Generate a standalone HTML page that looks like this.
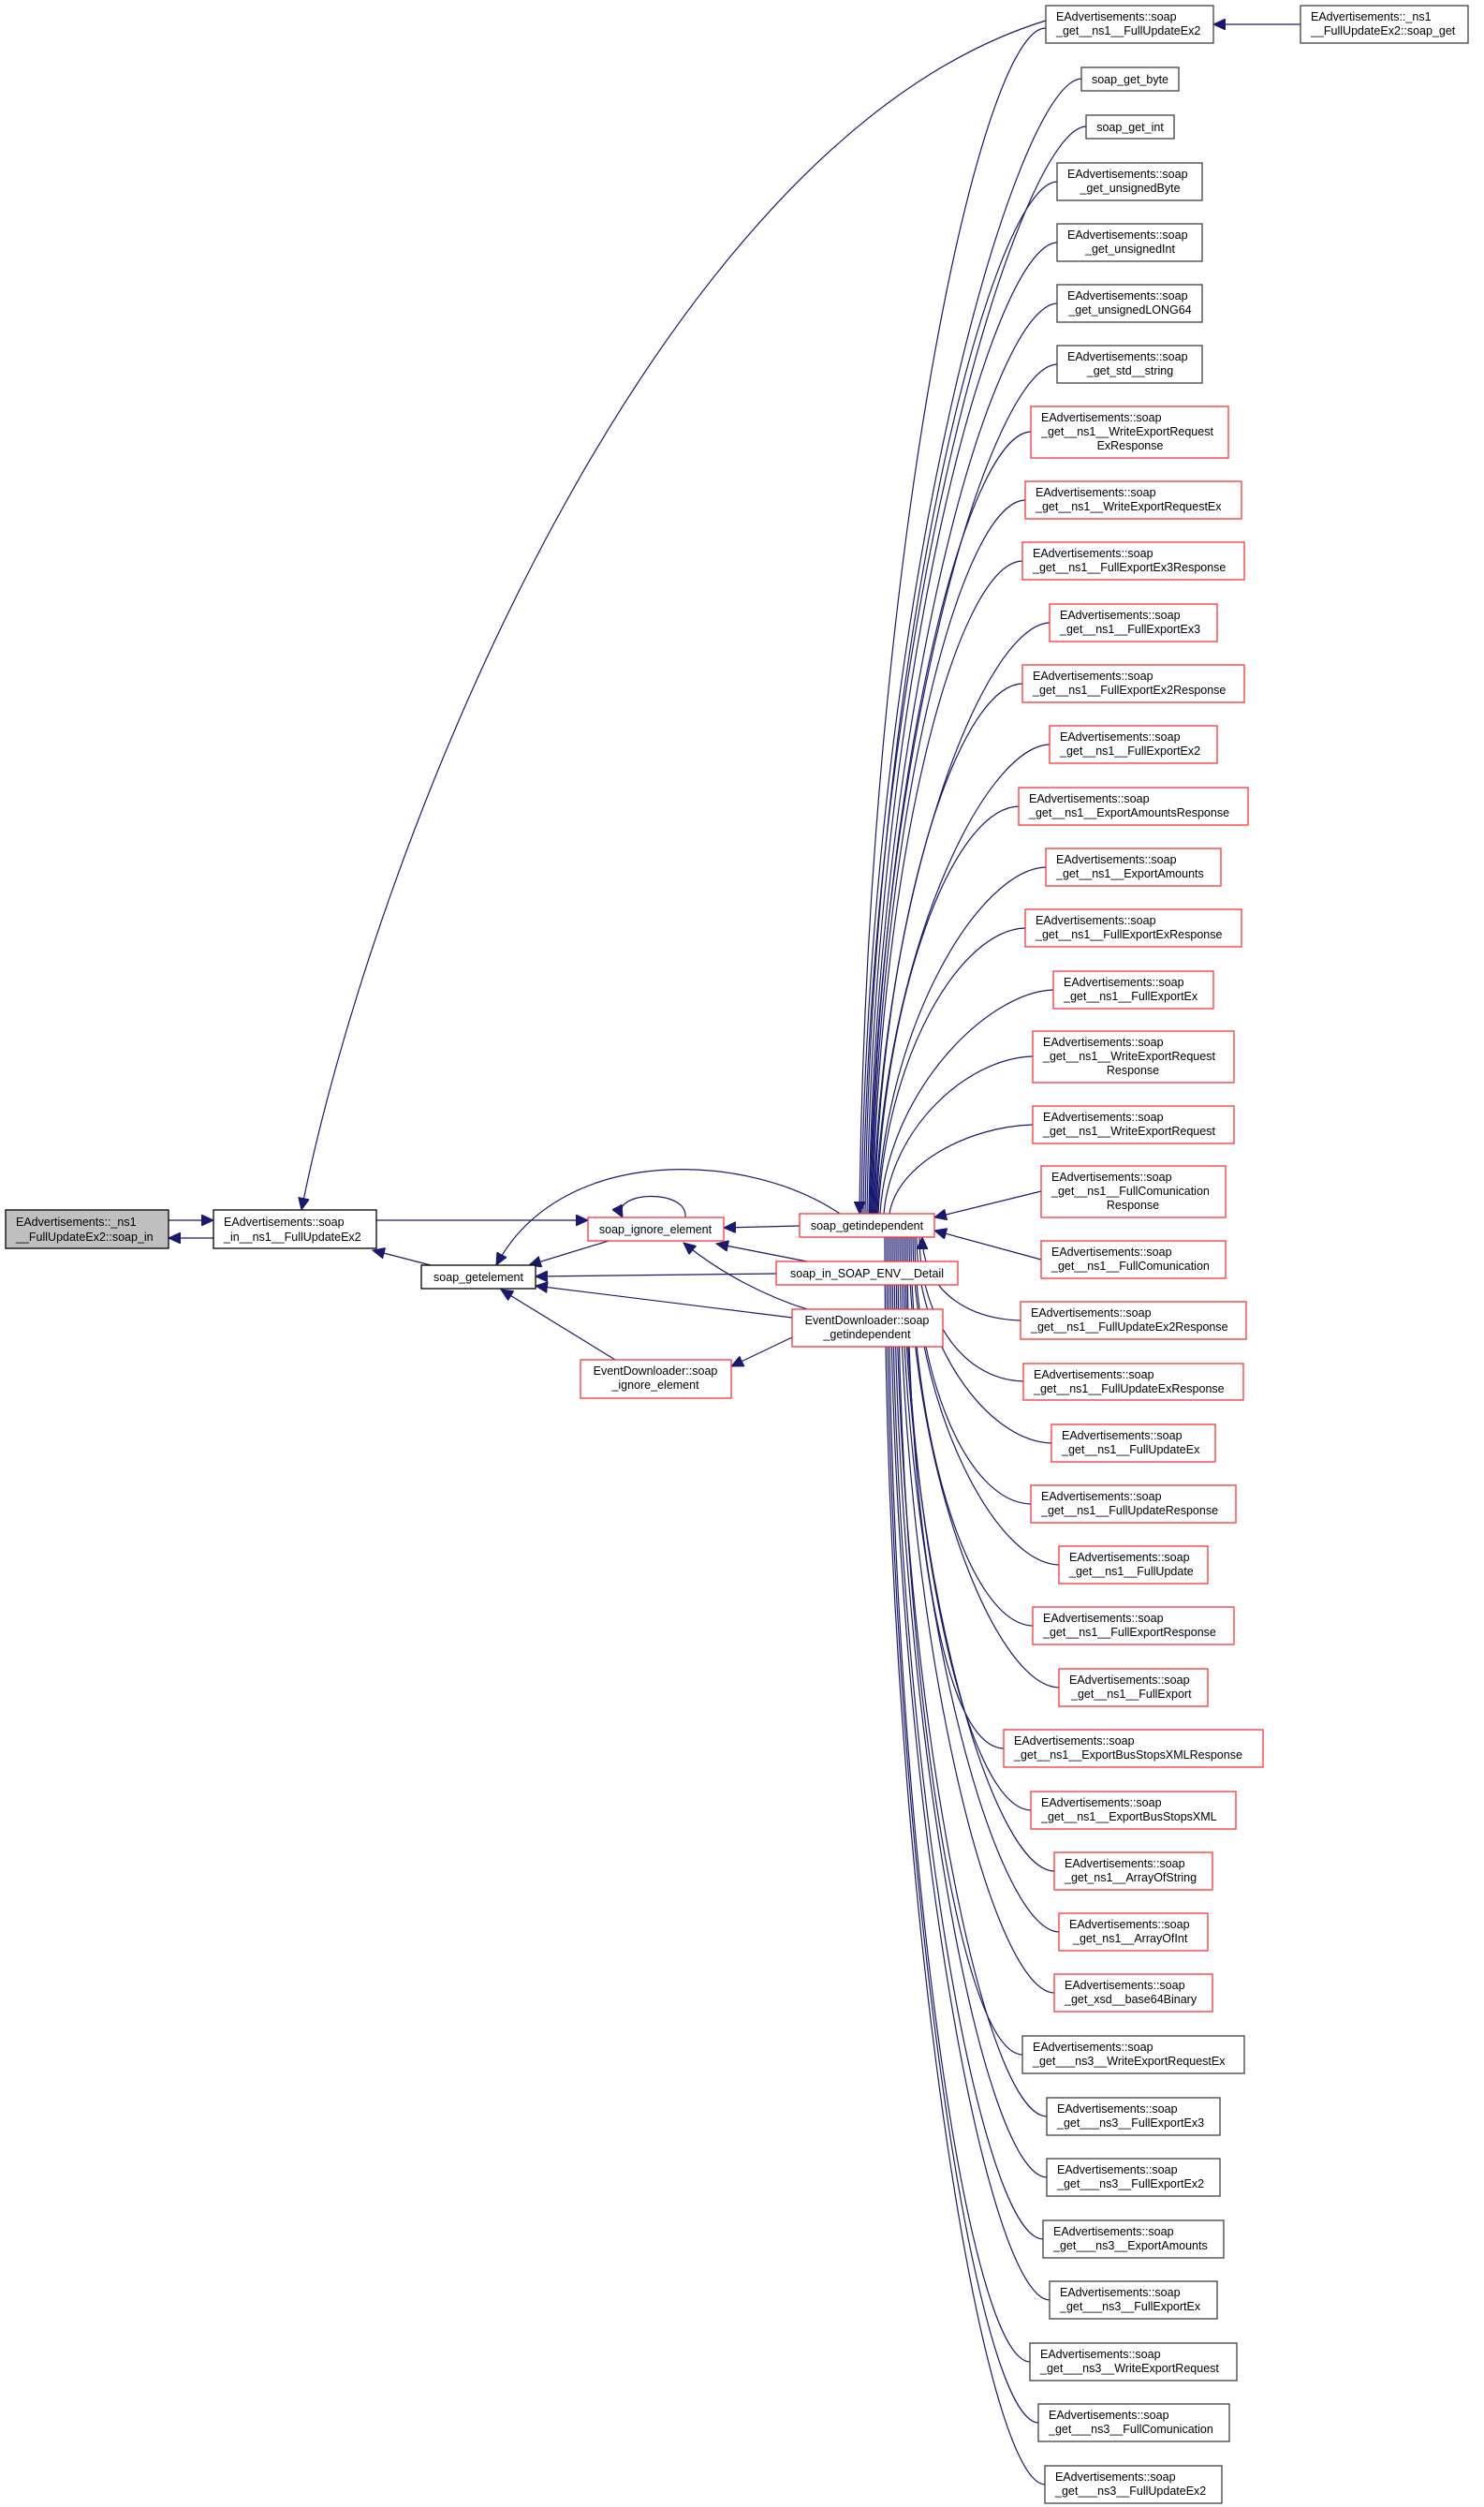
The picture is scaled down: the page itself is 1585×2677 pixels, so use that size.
<!DOCTYPE html>
<html><head><meta charset="utf-8"><style>
html,body{margin:0;padding:0;background:#fff;}
svg{display:block;}
text{font-family:"Liberation Sans",sans-serif;font-size:12.5px;fill:#000;}
.b{fill:#fff;stroke:#404040;stroke-width:1.3;}
.r{fill:#fff;stroke:#ff3333;stroke-width:1.3;}
.e{fill:none;stroke:#191970;stroke-width:1.2;}
</style></head><body>
<svg width="1585" height="2677" viewBox="0 0 1585 2677" xmlns="http://www.w3.org/2000/svg">
<defs>
<marker id="a" markerUnits="userSpaceOnUse" markerWidth="14" markerHeight="12" refX="13" refY="6" orient="auto-start-reverse">
<path d="M0,0 L13,6 L0,12 z" fill="#191970" stroke="#191970"/>
</marker>
</defs>
<g class="e">
<path d="M180,1303 L228,1303" marker-end="url(#a)"/>
<path d="M180,1322 L228,1322" marker-start="url(#a)"/>
<path d="M402,1303 L628,1303" marker-end="url(#a)"/>
<path d="M398,1335 L460,1351" marker-start="url(#a)"/>
<path d="M565,1351 L650,1325" marker-start="url(#a)"/>
<path d="M773,1311 L854,1309" marker-start="url(#a)"/>
<path d="M530,1351 C600,1220 800,1230 897,1296" marker-start="url(#a)"/>
<path d="M665,1300 C650,1272 735,1268 732,1300" marker-start="url(#a)"/>
<path d="M572,1363 L829,1360" marker-start="url(#a)"/>
<path d="M765,1328 L862,1347" marker-start="url(#a)"/>
<path d="M572,1373 L846,1407" marker-start="url(#a)"/>
<path d="M730,1327 C770,1360 820,1385 862,1398" marker-start="url(#a)"/>
<path d="M535,1377 L657,1452" marker-start="url(#a)"/>
<path d="M781,1459 L846,1428" marker-start="url(#a)"/>
<path d="M322,1292 C400,900 700,150 1117,22" marker-start="url(#a)"/>
<path d="M1296,26 L1389,26" marker-start="url(#a)"/>
<path d="M918,1296 C926,597 1047,28 1117,30" marker-start="url(#a)"/>
<path d="M920,1296 C928,630 1085,86 1155,84"/>
<path d="M922,1296 C930,658 1090,137 1160,135"/>
<path d="M924,1296 C932,690 1059,196 1129,194"/>
<path d="M926,1296 C934,726 1059,261 1129,259"/>
<path d="M928,1296 C936,761 1059,326 1129,324"/>
<path d="M929,1296 C937,797 1059,391 1129,389"/>
<path d="M930,1296 C938,837 1031,463 1101,461"/>
<path d="M931,1296 C939,877 1025,536 1095,534"/>
<path d="M932,1296 C940,913 1022,601 1092,599"/>
<path d="M933,1296 C941,949 1051,667 1121,665"/>
<path d="M934,1296 C942,985 1022,732 1092,730"/>
<path d="M935,1296 C943,1020 1051,797 1121,795"/>
<path d="M936,1296 C944,1057 1018,863 1088,861"/>
<path d="M937,1296 C945,1093 1047,928 1117,926"/>
<path d="M938,1296 C946,1128 1025,993 1095,991"/>
<path d="M940,1296 C948,1165 1055,1059 1125,1057"/>
<path d="M944,1296 C952,1204 1033,1130 1103,1128"/>
<path d="M950,1296 C958,1244 1033,1203 1103,1201"/>
<path d="M998,1300 L1112,1272" marker-start="url(#a)"/>
<path d="M998,1314 L1112,1345" marker-start="url(#a)"/>
<path d="M985,1321 C985,1366 1020,1408 1090,1410" marker-start="url(#a)"/>
<path d="M982,1321 C982,1398 1023,1473 1093,1475"/>
<path d="M979,1321 C979,1431 1053,1539 1123,1541"/>
<path d="M977,1321 C977,1464 1031,1604 1101,1606"/>
<path d="M975,1321 C975,1496 1061,1669 1131,1671"/>
<path d="M973,1321 C973,1529 1033,1734 1103,1736"/>
<path d="M971,1321 C971,1562 1061,1800 1131,1802"/>
<path d="M969,1321 C969,1594 1002,1865 1072,1867"/>
<path d="M967,1321 C967,1627 1031,1931 1101,1933"/>
<path d="M965,1321 C965,1660 1056,1996 1126,1998"/>
<path d="M963,1321 C963,1692 1061,2061 1131,2063"/>
<path d="M961,1321 C961,1725 1056,2126 1126,2128"/>
<path d="M959,1321 C959,1758 1022,2192 1092,2194"/>
<path d="M957,1321 C957,1791 1048,2258 1118,2260"/>
<path d="M955,1321 C955,1823 1048,2323 1118,2325"/>
<path d="M953,1321 C953,1856 1044,2389 1114,2391"/>
<path d="M951,1321 C951,1889 1051,2454 1121,2456"/>
<path d="M949,1321 C949,1922 1030,2520 1100,2522"/>
<path d="M947,1321 C947,1954 1039,2585 1109,2587"/>
<path d="M945,1321 C945,1987 1046,2651 1116,2653"/>
</g>

<rect x="6" y="1292" width="174" height="41" fill="#bfbfbf" stroke="#000" stroke-width="1.3"/>
<text x="17" y="1309">EAdvertisements::_ns1</text><text x="17" y="1325">__FullUpdateEx2::soap_in</text>
<rect class="b" x="228" y="1292" width="174" height="41" style="stroke:#000"/>
<text x="239" y="1309">EAdvertisements::soap</text><text x="239" y="1325">_in__ns1__FullUpdateEx2</text>
<rect class="b" x="450" y="1351" width="122" height="25" style="stroke:#000"/>
<text x="511" y="1368" text-anchor="middle">soap_getelement</text>
<rect class="r" x="628" y="1300" width="145" height="25"/>
<text x="700" y="1317" text-anchor="middle">soap_ignore_element</text>
<rect class="r" x="854" y="1296" width="144" height="25"/>
<text x="926" y="1313" text-anchor="middle">soap_getindependent</text>
<rect class="r" x="829" y="1347" width="194" height="25"/>
<text x="926" y="1364" text-anchor="middle">soap_in_SOAP_ENV__Detail</text>
<rect class="r" x="846" y="1398" width="161" height="40"/>
<text x="926" y="1414" text-anchor="middle">EventDownloader::soap</text><text x="926" y="1429" text-anchor="middle">_getindependent</text>
<rect class="r" x="620" y="1452" width="161" height="41"/>
<text x="700" y="1468" text-anchor="middle">EventDownloader::soap</text><text x="700" y="1483" text-anchor="middle">_ignore_element</text>

<rect class="b" x="1389" y="6" width="179" height="40"/><text x="1400" y="22">EAdvertisements::_ns1</text><text x="1400" y="37">__FullUpdateEx2::soap_get</text>
<rect class="b" x="1117" y="6" width="179" height="40"/><text x="1128" y="22">EAdvertisements::soap</text><text x="1128" y="37">_get__ns1__FullUpdateEx2</text>
<rect class="b" x="1155" y="72" width="104" height="25"/><text x="1207" y="89" text-anchor="middle">soap_get_byte</text>
<rect class="b" x="1160" y="123" width="94" height="25"/><text x="1207" y="140" text-anchor="middle">soap_get_int</text>
<rect class="b" x="1129" y="174" width="155" height="40"/><text x="1140" y="190">EAdvertisements::soap</text><text x="1207" y="205" text-anchor="middle">_get_unsignedByte</text>
<rect class="b" x="1129" y="239" width="155" height="40"/><text x="1140" y="255">EAdvertisements::soap</text><text x="1207" y="270" text-anchor="middle">_get_unsignedInt</text>
<rect class="b" x="1129" y="304" width="155" height="40"/><text x="1140" y="320">EAdvertisements::soap</text><text x="1207" y="335" text-anchor="middle">_get_unsignedLONG64</text>
<rect class="b" x="1129" y="369" width="155" height="40"/><text x="1140" y="385">EAdvertisements::soap</text><text x="1207" y="400" text-anchor="middle">_get_std__string</text>
<rect class="r" x="1101" y="434" width="211" height="55"/><text x="1112" y="450">EAdvertisements::soap</text><text x="1112" y="465">_get__ns1__WriteExportRequest</text><text x="1207" y="480" text-anchor="middle">ExResponse</text>
<rect class="r" x="1095" y="514" width="231" height="40"/><text x="1106" y="530">EAdvertisements::soap</text><text x="1106" y="545">_get__ns1__WriteExportRequestEx</text>
<rect class="r" x="1092" y="579" width="237" height="40"/><text x="1103" y="595">EAdvertisements::soap</text><text x="1103" y="610">_get__ns1__FullExportEx3Response</text>
<rect class="r" x="1121" y="645" width="179" height="40"/><text x="1132" y="661">EAdvertisements::soap</text><text x="1132" y="676">_get__ns1__FullExportEx3</text>
<rect class="r" x="1092" y="710" width="237" height="40"/><text x="1103" y="726">EAdvertisements::soap</text><text x="1103" y="741">_get__ns1__FullExportEx2Response</text>
<rect class="r" x="1121" y="775" width="179" height="40"/><text x="1132" y="791">EAdvertisements::soap</text><text x="1132" y="806">_get__ns1__FullExportEx2</text>
<rect class="r" x="1088" y="841" width="245" height="40"/><text x="1099" y="857">EAdvertisements::soap</text><text x="1099" y="872">_get__ns1__ExportAmountsResponse</text>
<rect class="r" x="1117" y="906" width="187" height="40"/><text x="1128" y="922">EAdvertisements::soap</text><text x="1128" y="937">_get__ns1__ExportAmounts</text>
<rect class="r" x="1095" y="971" width="231" height="40"/><text x="1106" y="987">EAdvertisements::soap</text><text x="1106" y="1002">_get__ns1__FullExportExResponse</text>
<rect class="r" x="1125" y="1037" width="171" height="40"/><text x="1136" y="1053">EAdvertisements::soap</text><text x="1136" y="1068">_get__ns1__FullExportEx</text>
<rect class="r" x="1103" y="1101" width="215" height="55"/><text x="1114" y="1117">EAdvertisements::soap</text><text x="1114" y="1132">_get__ns1__WriteExportRequest</text><text x="1210" y="1147" text-anchor="middle">Response</text>
<rect class="r" x="1103" y="1181" width="215" height="40"/><text x="1114" y="1197">EAdvertisements::soap</text><text x="1114" y="1212">_get__ns1__WriteExportRequest</text>
<rect class="r" x="1112" y="1245" width="197" height="55"/><text x="1123" y="1261">EAdvertisements::soap</text><text x="1123" y="1276">_get__ns1__FullComunication</text><text x="1210" y="1291" text-anchor="middle">Response</text>
<rect class="r" x="1112" y="1325" width="197" height="40"/><text x="1123" y="1341">EAdvertisements::soap</text><text x="1123" y="1356">_get__ns1__FullComunication</text>
<rect class="r" x="1090" y="1390" width="241" height="40"/><text x="1101" y="1406">EAdvertisements::soap</text><text x="1101" y="1421">_get__ns1__FullUpdateEx2Response</text>
<rect class="r" x="1093" y="1456" width="235" height="39"/><text x="1104" y="1472">EAdvertisements::soap</text><text x="1104" y="1487">_get__ns1__FullUpdateExResponse</text>
<rect class="r" x="1123" y="1521" width="175" height="40"/><text x="1134" y="1537">EAdvertisements::soap</text><text x="1134" y="1552">_get__ns1__FullUpdateEx</text>
<rect class="r" x="1101" y="1586" width="219" height="40"/><text x="1112" y="1602">EAdvertisements::soap</text><text x="1112" y="1617">_get__ns1__FullUpdateResponse</text>
<rect class="r" x="1131" y="1651" width="159" height="40"/><text x="1142" y="1667">EAdvertisements::soap</text><text x="1142" y="1682">_get__ns1__FullUpdate</text>
<rect class="r" x="1103" y="1716" width="215" height="40"/><text x="1114" y="1732">EAdvertisements::soap</text><text x="1114" y="1747">_get__ns1__FullExportResponse</text>
<rect class="r" x="1131" y="1782" width="159" height="40"/><text x="1142" y="1798">EAdvertisements::soap</text><text x="1144" y="1813">_get__ns1__FullExport</text>
<rect class="r" x="1072" y="1847" width="277" height="40"/><text x="1083" y="1863">EAdvertisements::soap</text><text x="1083" y="1878">_get__ns1__ExportBusStopsXMLResponse</text>
<rect class="r" x="1101" y="1913" width="219" height="40"/><text x="1112" y="1929">EAdvertisements::soap</text><text x="1112" y="1944">_get__ns1__ExportBusStopsXML</text>
<rect class="r" x="1126" y="1978" width="169" height="40"/><text x="1137" y="1994">EAdvertisements::soap</text><text x="1137" y="2009">_get_ns1__ArrayOfString</text>
<rect class="r" x="1131" y="2043" width="159" height="40"/><text x="1142" y="2059">EAdvertisements::soap</text><text x="1146" y="2074">_get_ns1__ArrayOfInt</text>
<rect class="r" x="1126" y="2108" width="169" height="40"/><text x="1137" y="2124">EAdvertisements::soap</text><text x="1137" y="2139">_get_xsd__base64Binary</text>
<rect class="b" x="1092" y="2174" width="237" height="40"/><text x="1103" y="2190">EAdvertisements::soap</text><text x="1103" y="2205">_get___ns3__WriteExportRequestEx</text>
<rect class="b" x="1118" y="2240" width="185" height="40"/><text x="1129" y="2256">EAdvertisements::soap</text><text x="1129" y="2271">_get___ns3__FullExportEx3</text>
<rect class="b" x="1118" y="2305" width="185" height="40"/><text x="1129" y="2321">EAdvertisements::soap</text><text x="1129" y="2336">_get___ns3__FullExportEx2</text>
<rect class="b" x="1114" y="2371" width="193" height="40"/><text x="1125" y="2387">EAdvertisements::soap</text><text x="1125" y="2402">_get___ns3__ExportAmounts</text>
<rect class="b" x="1121" y="2436" width="179" height="40"/><text x="1132" y="2452">EAdvertisements::soap</text><text x="1132" y="2467">_get___ns3__FullExportEx</text>
<rect class="b" x="1100" y="2502" width="221" height="40"/><text x="1111" y="2518">EAdvertisements::soap</text><text x="1111" y="2533">_get___ns3__WriteExportRequest</text>
<rect class="b" x="1109" y="2567" width="204" height="40"/><text x="1120" y="2583">EAdvertisements::soap</text><text x="1120" y="2598">_get___ns3__FullComunication</text>
<rect class="b" x="1116" y="2633" width="189" height="40"/><text x="1127" y="2649">EAdvertisements::soap</text><text x="1127" y="2664">_get___ns3__FullUpdateEx2</text>
</svg>
</body></html>
